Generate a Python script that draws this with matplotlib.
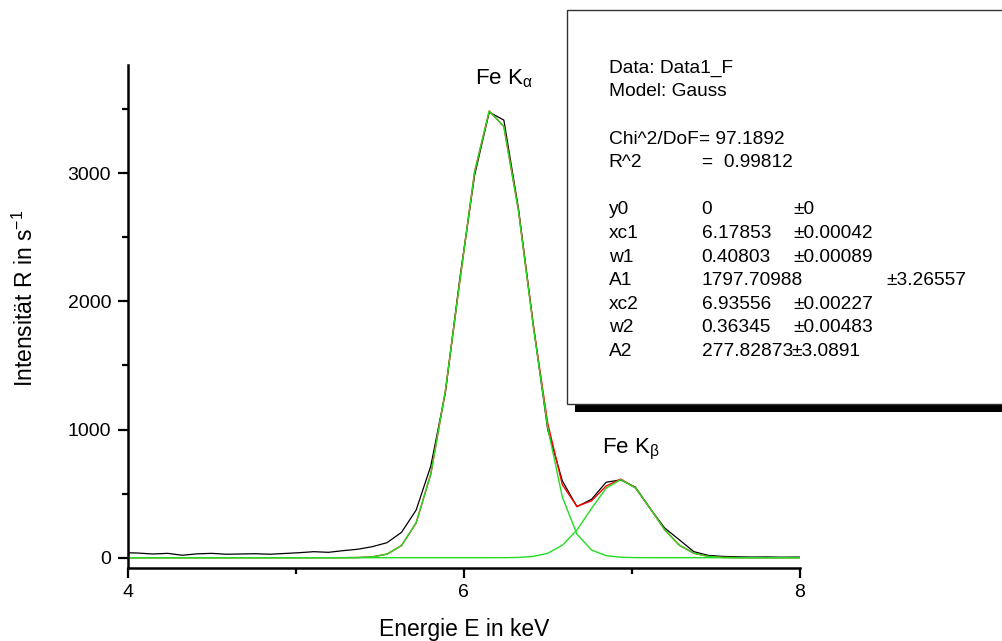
import matplotlib
matplotlib.use("Agg")
import matplotlib.pyplot as plt
from matplotlib.patches import Rectangle
from matplotlib.ticker import MultipleLocator
import numpy as np

plt.rcParams["font.family"] = ["Liberation Sans", "DejaVu Sans"]
plt.rcParams["mathtext.fontset"] = "custom"
plt.rcParams["mathtext.rm"] = "Liberation Sans"

W, H = 1002, 641

# channel energies (keV)
energy = [3.977, 4.064, 4.151, 4.238, 4.325, 4.412, 4.499, 4.586, 4.673, 4.760,
          4.847, 4.934, 5.021, 5.108, 5.195, 5.282, 5.369, 5.456, 5.543, 5.630,
          5.717, 5.804, 5.891, 5.978, 6.065, 6.152, 6.239, 6.326, 6.413, 6.500,
          6.587, 6.674, 6.761, 6.848, 6.935, 7.022, 7.109, 7.196, 7.283, 7.370,
          7.457, 7.544, 7.631, 7.718, 7.805, 7.892, 7.979, 8.066]

# measured count rate (1/s)
rate = [40, 36, 29, 34, 19, 30, 34, 27, 29, 31,
        27, 33, 39, 47, 42, 55, 66, 86, 117, 198,
        372, 715, 1290, 2190, 2985, 3477, 3415, 2725, 1830, 1000,
        600, 398, 456, 589, 607, 550, 385, 232, 140, 47,
        18, 10, 7, 5, 6, 4, 5, 4]

# Gauss fit, K-alpha component
fit_ka = [0, 0, 0, 0, 0, 0, 0, 0, 0, 0,
          0, 0, 0, 0, 0, 0.2, 1.3, 6.7, 27.5, 94.7,
          272.1, 652.1, 1302.4, 2168.6, 3011.2, 3485.8, 3364.2, 2707.1, 1816.0, 1015.6,
          473.5, 184.1, 59.7, 16.1, 3.6, 0.7, 0.1, 0, 0, 0,
          0, 0, 0, 0, 0, 0, 0, 0]

# Gauss fit, K-beta component
fit_kb = [0, 0, 0, 0, 0, 0, 0, 0, 0, 0,
          0, 0, 0, 0, 0, 0, 0, 0, 0, 0,
          0, 0, 0, 0, 0, 0.1, 0.4, 2.2, 9.8, 34.5,
          96.9, 216.5, 384.5, 543.1, 609.9, 544.7, 386.8, 218.4, 98.1, 35.0,
          9.9, 2.2, 0.4, 0.1, 0, 0, 0, 0]

fit_sum = np.array(fit_ka) + np.array(fit_kb)

fit_rows = [
    ("y0", "0", "±0"),
    ("xc1", "6.17853", "±0.00042"),
    ("w1", "0.40803", "±0.00089"),
    ("A1", "1797.70988", "±3.26557"),
    ("xc2", "6.93556", "±0.00227"),
    ("w2", "0.36345", "±0.00483"),
    ("A2", "277.82873", "±3.0891"),
]


def px(x, y):
    return x / W, 1 - y / H


fig = plt.figure(figsize=(W / 100, H / 100), dpi=100)
left, right, top, bottom = 127.7, 799.7, 65, 567.7
ax = fig.add_axes([left / W, 1 - bottom / H, (right - left) / W, (bottom - top) / H])

green = "#22dd22"
ax.plot(energy, rate, color="black", lw=0.9)
ax.plot(energy, fit_sum, color="red", lw=1.0)
ax.plot(energy, fit_ka, color=green, lw=1.0)
ax.plot(energy, fit_kb, color=green, lw=1.0)

ax.set_xlim(4, 8)
ax.set_ylim(-78, 3845)
ax.xaxis.set_major_locator(MultipleLocator(2))
ax.xaxis.set_minor_locator(MultipleLocator(1))
ax.yaxis.set_major_locator(MultipleLocator(1000))
ax.yaxis.set_minor_locator(MultipleLocator(500))

for s in ("top", "right"):
    ax.spines[s].set_visible(False)
for s in ("left", "bottom"):
    ax.spines[s].set_linewidth(1.8)

ax.tick_params(which="major", direction="out", length=7, width=1.6, labelsize=14)
ax.tick_params(which="minor", direction="out", length=4, width=1.6)
ax.tick_params(axis="y", which="major", pad=5)
ax.tick_params(axis="x", which="major", pad=5)

ax.set_xlabel("Energie E in keV", fontsize=16.5)
ax.xaxis.set_label_coords(0.5, -0.1)
ax.set_ylabel("Intensität R in s$^{\\mathregular{-1}}$", fontsize=16.5)
ax.yaxis.set_label_coords(-0.133, 0.535)

# peak labels
fig.text(*px(475, 84), "Fe K$_\\mathregular{α}$", fontsize=16, va="baseline")
fig.text(*px(602, 453), "Fe K$_\\mathregular{β}$", fontsize=16, va="baseline")

# fit result box with drop shadow
fig.patches.append(Rectangle(px(575, 412), (W + 20 - 575) / W, (412 - 18) / H,
                             transform=fig.transFigure, facecolor="black",
                             edgecolor="none", zorder=5))
fig.patches.append(Rectangle(px(567.3, 403.5), (W + 20 - 567.3) / W, (403.5 - 10) / H,
                             transform=fig.transFigure, facecolor="white",
                             edgecolor="#333333", lw=1.0, zorder=6))

fs = 13.8
col1, col2, col3 = 608.7, 701.7, 793.3
step = 23.6
base = 72.7
fig.text(*px(col1, base), "Data: Data1_F", fontsize=fs, va="baseline", zorder=7)
fig.text(*px(col1, base + step), "Model: Gauss", fontsize=fs, va="baseline", zorder=7)
fig.text(*px(col1, base + 3 * step), "Chi^2/DoF", fontsize=fs, va="baseline", zorder=7)
fig.text(*px(699.3, base + 3 * step), "= 97.1892", fontsize=fs, va="baseline", zorder=7)
fig.text(*px(col1, base + 4 * step), "R^2", fontsize=fs, va="baseline", zorder=7)
fig.text(*px(col2, base + 4 * step), "=  0.99812", fontsize=fs, va="baseline", zorder=7)

for i, (name, val, err) in enumerate(fit_rows):
    yb = base + (6 + i) * step
    fig.text(*px(col1, yb), name, fontsize=fs, va="baseline", zorder=7)
    fig.text(*px(col2, yb), val, fontsize=fs, va="baseline", zorder=7)
    if name == "A1":
        ex = 886.7
    elif name == "A2":
        ex = 791.5
    else:
        ex = col3
    fig.text(*px(ex, yb), err, fontsize=fs, va="baseline", zorder=7)

fig.savefig("out.png", dpi=100)
